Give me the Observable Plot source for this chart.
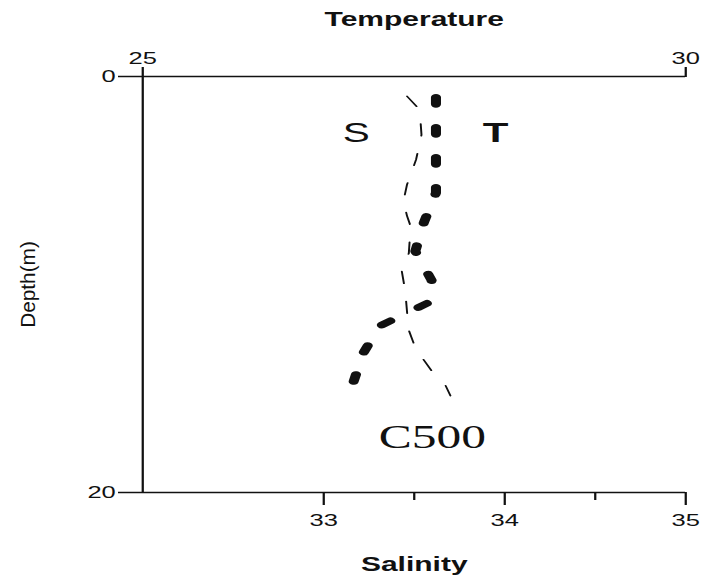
<!DOCTYPE html>
<html><head><meta charset="utf-8">
<script src="https://cdn.jsdelivr.net/npm/d3@7"></script>
<script src="https://cdn.jsdelivr.net/npm/@observablehq/plot@0.6"></script>
<style>
body{margin:0;background:#fff;}
#chart{position:relative;width:704px;height:579px;background:#fff;}
#chart svg{position:absolute;left:0;top:0;}
</style></head><body><div id="chart"></div>
<script>
// ---- data ----
const salinityTicks = [33, 34, 35];
const salinityMinorTicks = [33.5, 34.5];
const temperatureTicks = [25, 30];
const depthTicks = [0, 20];

// Salinity profile (thin dashed line, S)
const salDepth = [0.95, 1.6, 2.8, 4.0, 5.2, 6.0, 6.7, 7.2, 8.5, 9.3, 10.3, 11.3, 12.2, 12.9, 13.6, 14.2, 14.8, 15.35];
const salValue = [33.46, 33.53, 33.54, 33.51, 33.46, 33.44, 33.46, 33.48, 33.47, 33.43, 33.45, 33.46, 33.47, 33.50, 33.55, 33.60, 33.67, 33.70];

// Temperature profile (thick dashed line, T)
const tempDepth = [1.0, 5.6, 7.0, 8.4, 9.8, 10.9, 12.0, 13.3, 15.0];
const tempValue = [27.70, 27.70, 27.59, 27.51, 27.66, 27.62, 27.18, 27.03, 26.92];

// Annotations (salinity / depth coordinates)
const labelText = ["S", "T", "C500"];
const labelSal = [33.18, 33.95, 33.60];
const labelDepth = [3.15, 3.15, 17.85];

const titleTop = "Temperature";
const titleBottom = "Salinity";
const titleLeft = "Depth(m)";

// ---- layout ----
const K = 1.5, FULL_W = 704, H = 579;
const W = FULL_W / K;
const FONT = "'Liberation Sans', Arial, sans-serif";
const SERIF = "'Liberation Serif', 'Times New Roman', serif";
const ink = "#111";
const fmt = d => String(d);

const sal = salDepth.map((d, i) => ({depth: d, value: salValue[i]}));
const temp = tempDepth.map((d, i) => ({depth: d, value: tempValue[i]}));
const labels = labelText.map((t, i) => ({text: t, sal: labelSal[i], depth: labelDepth[i]}));

const base = {
  width: W, height: H,
  marginLeft: 142 / K, marginRight: 19 / K, marginTop: 76, marginBottom: 87,
  style: {fontFamily: FONT, color: ink, background: "transparent", overflow: "visible"}
};

const salPlot = Plot.plot({
  ...base,
  x: {domain: [32, 35]},
  y: {domain: [0, 20], reverse: true},
  marks: [
    Plot.ruleY([0, 20], {stroke: ink, strokeWidth: 1.5}),
    Plot.ruleX([32], {stroke: ink, strokeWidth: 1.5}),
    Plot.axisX(salinityTicks, {anchor: "bottom", tickSize: 13, tickPadding: 8, fontSize: 17, label: null, strokeWidth: 1.5, tickFormat: fmt}),
    Plot.axisX(salinityMinorTicks, {anchor: "bottom", tickSize: 8, tickFormat: () => "", label: null, strokeWidth: 1.5}),
    Plot.axisY(depthTicks, {anchor: "left", tickSize: 16, tickPadding: 2, fontSize: 17, label: null, strokeWidth: 1.5, tickFormat: fmt}),
    Plot.line(sal, {x: "value", y: "depth", stroke: ink, strokeWidth: 1.3, strokeDasharray: "12,18"}),
    Plot.text(labels.filter(d => d.text === "S"), {x: "sal", y: "depth", text: "text", fontSize: 27, lineAnchor: "bottom", textAnchor: "middle", fill: ink}),
    Plot.text(labels.filter(d => d.text === "T"), {x: "sal", y: "depth", text: "text", fontSize: 28, fontWeight: "bold", lineAnchor: "bottom", textAnchor: "middle", fill: ink}),
    Plot.text(labels.filter(d => d.text === "C500"), {x: "sal", y: "depth", text: "text", fontSize: 33, fontFamily: SERIF, lineAnchor: "bottom", textAnchor: "middle", fill: ink}),
    Plot.text([titleBottom], {text: d => d, frameAnchor: "bottom", dy: 78, lineAnchor: "bottom", fontSize: 20, fontWeight: "bold", fill: ink}),
    Plot.text([titleLeft], {text: d => d, frameAnchor: "left", dx: -76, rotate: -90, lineAnchor: "middle", textAnchor: "middle", fontSize: 13, fill: ink})
  ]
});

const tempPlot = Plot.plot({
  ...base,
  x: {domain: [25, 30]},
  y: {domain: [0, 20], reverse: true, axis: null},
  marks: [
    Plot.axisX(temperatureTicks, {anchor: "top", tickSize: 10, tickPadding: 3, fontSize: 17, label: null, strokeWidth: 1.5, tickFormat: fmt}),
    Plot.line(temp, {x: "value", y: "depth", stroke: ink, strokeWidth: 6.7, strokeDasharray: "7,23", strokeLinecap: "round", strokeLinejoin: "round"}),
    Plot.text([titleTop], {text: d => d, frameAnchor: "top", dy: -51, lineAnchor: "bottom", fontSize: 20, fontWeight: "bold", fill: ink})
  ]
});

// stretch the Depth(m) label along its length
salPlot.querySelectorAll("text").forEach(t => {
  if (t.textContent === titleLeft) {
    const tr = t.getAttribute("transform") || "";
    t.setAttribute("transform", tr + " scale(1.6,1)");
  }
});

const chart = document.getElementById("chart");
[salPlot, tempPlot].forEach(svg => {
  svg.setAttribute("viewBox", `0 0 ${W} ${H}`);
  svg.setAttribute("width", FULL_W);
  svg.setAttribute("height", H);
  svg.setAttribute("preserveAspectRatio", "none");
  svg.style.width = FULL_W + "px";
  svg.style.height = H + "px";
  svg.style.maxWidth = "none";
  chart.appendChild(svg);
});
</script></body></html>
